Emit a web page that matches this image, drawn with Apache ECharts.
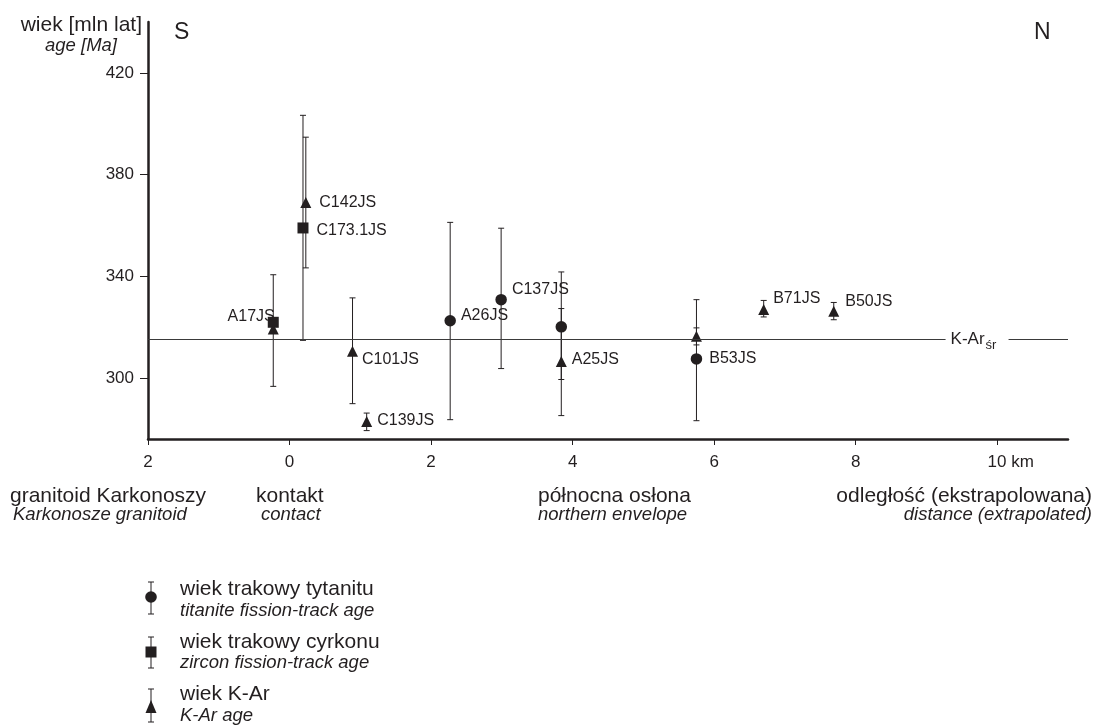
<!DOCTYPE html>
<html><head>
<meta charset="UTF-8">
<title>wiek trakowy / K-Ar - profil S-N</title>
<script src="https://cdn.jsdelivr.net/npm/echarts@6/dist/echarts.min.js"></script>
<style>
  html, body { margin: 0; padding: 0; background: #fff; }
  #chart { width: 1096px; height: 727px; }
</style>
</head>
<body>
<div id="chart"></div>
<script>
  // odleglosc [km] / wiek [Ma] / przedzial bledu
  const titNames = ['A26JS', 'C137JS', '', 'B53JS'];
  const titDist  = [2.27, 2.99, 3.84, 5.75];
  const titAge   = [322.5, 330.8, 320.1, 307.5];
  const titLow   = [283.6, 303.7, 299.4, 283.2];
  const titHigh  = [361.2, 358.9, 341.7, 330.8];

  const zirNames = ['A17JS', 'C173.1JS'];
  const zirDist  = [-0.23, 0.19];
  const zirAge   = [321.9, 359.0];
  const zirLow   = [null, 314.8];
  const zirHigh  = [null, 403.3];

  const karNames = ['', 'C142JS', 'C101JS', 'C139JS', 'A25JS', '', 'B71JS', 'B50JS'];
  const karDist  = [-0.23, 0.23, 0.89, 1.09, 3.84, 5.75, 6.70, 7.69];
  const karAge   = [319.3, 369.0, 310.5, 282.9, 306.5, 316.4, 326.9, 326.2];
  const karLow   = [296.7, 343.3, 289.9, 279.3, 285.2, 313.0, 324.0, 322.9];
  const karHigh  = [340.6, 394.7, 331.5, 286.2, 327.3, 319.7, 330.5, 329.7];

  const KAR_MEAN = 315.3;
  const yTicks = [300, 340, 380, 420];

  const INK = '#231f20';
  const FONT = '"Liberation Sans", Arial, sans-serif';

  // polozenie etykiet probek (odsuniecie od znacznika)
  const labelOffsets = {
    'A17JS':   { pos: 'left',  off: [7, -6] },
    'C142JS':  { pos: 'right', off: [8, 0] },
    'C173.1JS':{ pos: 'right', off: [8, 3] },
    'C101JS':  { pos: 'right', off: [4, 8] },
    'C139JS':  { pos: 'right', off: [5, -1] },
    'A26JS':   { pos: 'right', off: [5, -5] },
    'C137JS':  { pos: 'right', off: [5, -10] },
    'A25JS':   { pos: 'right', off: [5, -2] },
    'B53JS':   { pos: 'right', off: [7, 0] },
    'B71JS':   { pos: 'right', off: [4, -11] },
    'B50JS':   { pos: 'right', off: [6, -10] }
  };

  function points(names, dist, age) {
    return dist.map((d, i) => {
      const item = { name: names[i], value: [d, age[i]] };
      const lo = labelOffsets[names[i]];
      if (lo) {
        item.label = { show: true, position: lo.pos, distance: 0, offset: lo.off };
      }
      return item;
    });
  }

  function bars(dist, low, high) {
    const out = [];
    dist.forEach((d, i) => {
      if (low[i] != null && high[i] != null) out.push([d, low[i], high[i]]);
    });
    return out;
  }

  function renderBar(params, api) {
    const x = api.value(0);
    const a = api.coord([x, api.value(1)]);
    const b = api.coord([x, api.value(2)]);
    const w = 3;
    const st = { stroke: INK, lineWidth: 1 };
    return {
      type: 'group',
      children: [
        { type: 'line', shape: { x1: a[0], y1: a[1], x2: b[0], y2: b[1] }, style: st },
        { type: 'line', shape: { x1: a[0] - w, y1: a[1], x2: a[0] + w, y2: a[1] }, style: st },
        { type: 'line', shape: { x1: b[0] - w, y1: b[1], x2: b[0] + w, y2: b[1] }, style: st }
      ]
    };
  }

  const allBars = bars(titDist, titLow, titHigh)
    .concat(bars(zirDist, zirLow, zirHigh))
    .concat(bars(karDist, karLow, karHigh));

  const sampleLabel = {
    show: false,
    formatter: '{b}',
    color: INK,
    fontSize: 16,
    fontFamily: FONT
  };

  // legenda rysowana recznie (znacznik z bledem + dwa wiersze tekstu)
  function legendIcon(shape, cy, top, bottom) {
    const x = 151;
    const st = { stroke: INK, lineWidth: 1 };
    const els = [
      { type: 'line', shape: { x1: x, y1: top, x2: x, y2: bottom }, style: st },
      { type: 'line', shape: { x1: x - 3, y1: top, x2: x + 3, y2: top }, style: st },
      { type: 'line', shape: { x1: x - 3, y1: bottom, x2: x + 3, y2: bottom }, style: st }
    ];
    if (shape === 'circle') {
      els.push({ type: 'circle', shape: { cx: x, cy: cy, r: 5.8 }, style: { fill: INK } });
    } else if (shape === 'rect') {
      els.push({ type: 'rect', shape: { x: x - 5.5, y: cy - 5.5, width: 11, height: 11 }, style: { fill: INK } });
    } else {
      els.push({ type: 'polygon', shape: { points: [[x, cy - 7], [x + 5.5, cy + 6], [x - 5.5, cy + 6]] }, style: { fill: INK } });
    }
    return els;
  }

  function txt(text, x, y, size, opts) {
    return {
      type: 'text', x: x, y: y,
      style: Object.assign({
        text: text, fill: INK, fontSize: size, fontFamily: FONT,
        textAlign: 'left', textVerticalAlign: 'middle'
      }, opts || {})
    };
  }

  const graphics = [
    txt('wiek [mln lat]', 142, 25, 21, { textAlign: 'right' }),
    txt('age [Ma]', 117, 46, 18.5, { textAlign: 'right', fontStyle: 'italic' }),
    txt('S', 174, 33, 23),
    txt('N', 1034, 33, 23),

    txt('granitoid Karkonoszy', 10, 496, 21),
    txt('Karkonosze granitoid', 13, 515, 18.5, { fontStyle: 'italic' }),
    txt('kontakt', 256, 496, 21),
    txt('contact', 261, 515, 18.5, { fontStyle: 'italic' }),
    txt('północna osłona', 538, 496, 21),
    txt('northern envelope', 538, 515, 18.5, { fontStyle: 'italic' }),
    txt('odległość (ekstrapolowana)', 1092, 496, 21, { textAlign: 'right' }),
    txt('distance (extrapolated)', 1092, 515, 18.5, { textAlign: 'right', fontStyle: 'italic' }),

    txt('wiek trakowy tytanitu', 180, 589, 21),
    txt('titanite fission-track age', 180, 611, 18.5, { fontStyle: 'italic' }),
    txt('wiek trakowy cyrkonu', 180, 642, 21),
    txt('zircon fission-track age', 180, 663, 18.5, { fontStyle: 'italic' }),
    txt('wiek K-Ar', 180, 694, 21),
    txt('K-Ar age', 180, 716, 18.5, { fontStyle: 'italic' })
  ]
    .concat(legendIcon('circle', 597, 582, 614))
    .concat(legendIcon('rect', 652, 637, 668))
    .concat(legendIcon('triangle', 707, 689, 722));

  const chart = echarts.init(document.getElementById('chart'), null, { renderer: 'canvas' });

  chart.setOption({
    backgroundColor: '#ffffff',
    animation: false,
    textStyle: { fontFamily: FONT, color: INK },
    grid: { left: 148, right: 28, top: 22, bottom: 288, containLabel: false },
    xAxis: {
      type: 'value',
      min: -2,
      max: 11,
      interval: 2,
      splitLine: { show: false },
      axisLine: { onZero: false, lineStyle: { color: INK, width: 2.5 } },
      axisTick: { show: true, length: 6, lineStyle: { color: INK, width: 1 } },
      axisLabel: {
        fontSize: 17,
        color: INK,
        margin: 15,
        showMaxLabel: false,
        formatter: function (v) {
          if (v === -2) return '2';
          if (v === 10) return '{pad|}10 km';
          return String(v);
        },
        rich: { pad: { width: 27 } }
      }
    },
    yAxis: {
      type: 'value',
      min: 276,
      max: 440,
      splitLine: { show: false },
      axisLine: { onZero: false, lineStyle: { color: INK, width: 2.5 } },
      axisTick: { show: true, length: 8, customValues: yTicks, lineStyle: { color: INK, width: 1 } },
      axisLabel: { fontSize: 17, color: INK, margin: 14, customValues: yTicks }
    },
    graphic: graphics,
    series: [
      {
        name: 'bledy',
        type: 'custom',
        renderItem: renderBar,
        data: allBars,
        encode: { x: 0, y: [1, 2] },
        z: 2,
        silent: true
      },
      {
        name: 'wiek trakowy tytanitu',
        type: 'scatter',
        symbol: 'circle',
        symbolSize: 11.5,
        itemStyle: { color: INK, opacity: 1 },
        label: sampleLabel,
        data: points(titNames, titDist, titAge),
        z: 3
      },
      {
        name: 'wiek trakowy cyrkonu',
        type: 'scatter',
        symbol: 'rect',
        symbolSize: [11, 11],
        itemStyle: { color: INK, opacity: 1 },
        label: sampleLabel,
        data: points(zirNames, zirDist, zirAge),
        z: 3
      },
      {
        name: 'wiek K-Ar',
        type: 'scatter',
        symbol: 'triangle',
        symbolSize: [11, 11],
        itemStyle: { color: INK, opacity: 1 },
        label: sampleLabel,
        data: points(karNames, karDist, karAge),
        z: 3,
        markLine: {
          silent: true,
          symbol: 'none',
          lineStyle: { color: '#3a3a3a', width: 1.2, type: 'solid', opacity: 1 },
          data: [
            [
              { coord: [-2, KAR_MEAN],
                label: {
                  show: true, position: 'end', distance: 5,
                  formatter: '{k|K-Ar}{s|śr}',
                  rich: {
                    k: { fontSize: 17, color: INK, fontFamily: FONT },
                    s: { fontSize: 13, color: INK, fontFamily: FONT, padding: [12, 0, 0, 1] }
                  }
                } },
              { coord: [9.27, KAR_MEAN] }
            ],
            [
              { coord: [10.16, KAR_MEAN], label: { show: false } },
              { coord: [11, KAR_MEAN] }
            ]
          ]
        }
      }
    ]
  });
</script>
</body></html>
